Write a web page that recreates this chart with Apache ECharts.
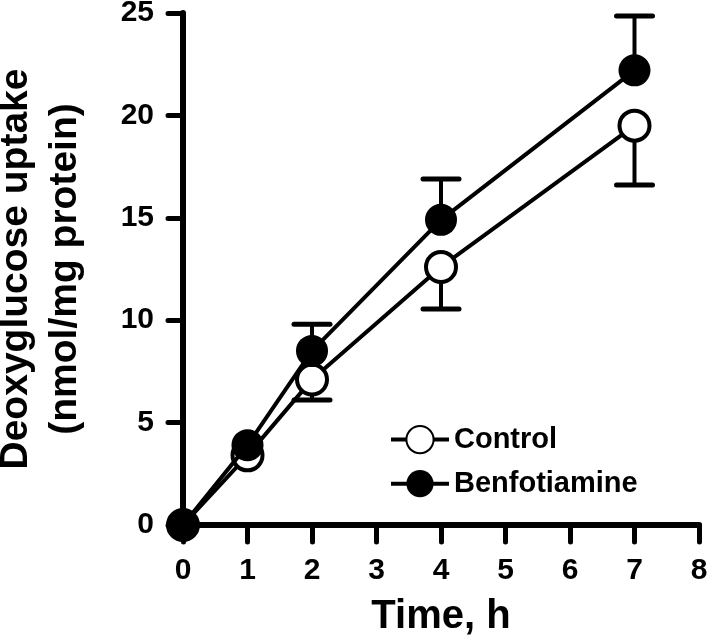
<!DOCTYPE html>
<html><head><meta charset="utf-8">
<script src="https://cdn.jsdelivr.net/npm/echarts@6/dist/echarts.min.js"></script>
<style>html,body{margin:0;padding:0;background:#fff}#c{width:708px;height:642px}</style>
</head><body><div id="c"></div>
<script>
const times = [0, 1, 2, 4, 7];
const controlMean = [0, 3.4, 7.1, 12.6, 19.5];
const controlErr = [0, 0, 1.0, 2.05, 2.9];
const benfoMean = [0, 3.9, 8.5, 14.9, 22.2];
const benfoErr = [0, 0, 1.3, 2.0, 2.65];
const xTicks = [0, 1, 2, 3, 4, 5, 6, 7, 8];
const yTicks = [0, 5, 10, 15, 20, 25];

const FONT = '"Liberation Sans", Arial, sans-serif';
const chart = echarts.init(document.getElementById('c'), null, {renderer: 'canvas'});

function errSeries(mean, err, dir) {
  const data = times.map((t, i) => [t, mean[i], mean[i] + dir * err[i]]).filter(d => d[1] !== d[2]);
  return {
    type: 'custom', z: 1, silent: true, clip: false,
    data: data,
    renderItem: function (params, api) {
      const p0 = api.coord([api.value(0), api.value(1)]);
      const p1 = api.coord([api.value(0), api.value(2)]);
      const hw = 18;
      return {
        type: 'group',
        children: [
          {type: 'line', shape: {x1: p0[0], y1: p0[1], x2: p1[0], y2: p1[1]}, style: {stroke: '#000', lineWidth: 4}},
          {type: 'line', shape: {x1: p1[0] - hw, y1: p1[1], x2: p1[0] + hw, y2: p1[1]}, style: {stroke: '#000', lineWidth: 5, lineCap: 'round'}}
        ]
      };
    }
  };
}

chart.setOption({
  animation: false,
  backgroundColor: '#fff',
  grid: {left: 183, right: 9, top: 13, bottom: 117, containLabel: false, outerBoundsMode: 'none'},
  xAxis: {
    type: 'value', min: 0, max: 8, interval: 1,
    name: 'Time, h', nameLocation: 'middle', nameGap: 72,
    nameTextStyle: {fontFamily: FONT, fontWeight: 'bold', fontSize: 40, color: '#000'},
    axisLine: {lineStyle: {color: '#000', width: 6, cap: 'round'}},
    axisTick: {show: true, inside: false, length: 17, lineStyle: {color: '#000', width: 5, cap: 'round'}},
    axisLabel: {margin: 31, fontFamily: FONT, fontWeight: 'bold', fontSize: 30, color: '#000',
      formatter: v => xTicks.includes(v) ? String(v) : ''},
    splitLine: {show: false}
  },
  yAxis: {
    type: 'value', min: 0, max: 25, interval: 5,
    name: 'Deoxyglucose uptake\n(nmol/mg protein)', nameLocation: 'middle', nameGap: 93,
    nameTextStyle: {fontFamily: FONT, fontWeight: 'bold', fontSize: 39, color: '#000', lineHeight: 49},
    axisLine: {lineStyle: {color: '#000', width: 6, cap: 'round'}},
    axisTick: {show: true, inside: false, length: 15, lineStyle: {color: '#000', width: 5, cap: 'round'}},
    axisLabel: {margin: 29, fontFamily: FONT, fontWeight: 'bold', fontSize: 30, color: '#000',
      formatter: v => yTicks.includes(v) ? String(v) : ''},
    splitLine: {show: false}
  },
  legend: {
    left: 384, top: 420, orient: 'vertical', itemGap: 15,
    itemWidth: 58, itemHeight: 34,
    lineStyle: {width: 4},
    textStyle: {fontFamily: FONT, fontWeight: 'bold', fontSize: 29, color: '#000'},
    data: ['Control', 'Benfotiamine']
  },
  series: [
    errSeries(controlMean, controlErr, -1),
    errSeries(benfoMean, benfoErr, 1),
    {
      name: 'Control', type: 'line', z: 3, clip: false,
      data: times.map((t, i) => [t, controlMean[i]]),
      symbol: 'circle', symbolSize: 30,
      lineStyle: {color: '#000', width: 4},
      itemStyle: {color: '#fff', borderColor: '#000', borderWidth: 4},
    },
    {
      name: 'Benfotiamine', type: 'line', z: 4, clip: false,
      data: times.map((t, i) => [t, benfoMean[i]]),
      symbol: 'circle', symbolSize: 32,
      lineStyle: {color: '#000', width: 4},
      itemStyle: {color: '#000', borderColor: '#000', borderWidth: 0},
    }
  ]
});
</script></body></html>
